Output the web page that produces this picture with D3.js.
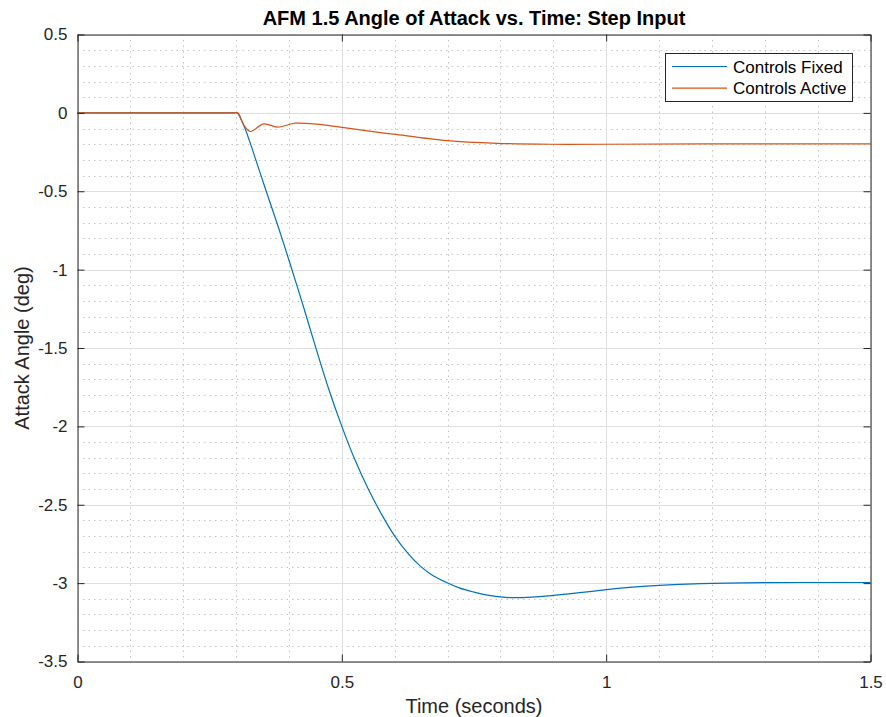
<!DOCTYPE html>
<html><head><meta charset="utf-8">
<script src="https://cdn.jsdelivr.net/npm/d3@7"></script>
<style>body{margin:0;background:#fff}svg{display:block;font-family:"Liberation Sans",Arial,Helvetica,sans-serif}</style>
</head><body><svg id="c" width="886" height="717"></svg>
<script>
const xTicks = [0, 0.5, 1, 1.5];
const xTickLabels = ["0", "0.5", "1", "1.5"];
const yTicks = [0.5, 0, -0.5, -1, -1.5, -2, -2.5, -3, -3.5];
const yTickLabels = ["0.5", "0", "-0.5", "-1", "-1.5", "-2", "-2.5", "-3", "-3.5"];
const seriesNames = ["Controls Fixed", "Controls Active"];
const seriesColors = ["#0072BD", "#D95319"];

const fixedTime  = [0, 0.1, 0.2, 0.28, 0.295, 0.302, 0.31, 0.318, 0.33, 0.354, 0.38, 0.40, 0.425, 0.45, 0.475, 0.5, 0.525, 0.55, 0.575, 0.6, 0.625, 0.649, 0.672, 0.696, 0.722, 0.75, 0.775, 0.80, 0.825, 0.86, 0.9, 0.95, 1.0, 1.05, 1.1, 1.18, 1.3, 1.4, 1.5];
const fixedValue = [0, 0, 0, 0, 0, 0, -0.045, -0.109, -0.225, -0.47, -0.73, -0.94, -1.21, -1.49, -1.76, -2.0, -2.215, -2.40, -2.56, -2.70, -2.81, -2.893, -2.951, -2.993, -3.030, -3.057, -3.076, -3.088, -3.093, -3.089, -3.078, -3.061, -3.042, -3.026, -3.014, -3.003, -2.997, -2.996, -2.996];

const activeTime  = [0, 0.1, 0.2, 0.28, 0.296, 0.303, 0.315, 0.327, 0.352, 0.378, 0.412, 0.453, 0.497, 0.573, 0.598, 0.699, 0.794, 0.895, 0.996, 1.19, 1.5];
const activeValue = [0, 0, 0, 0, 0, 0, -0.08, -0.119, -0.070, -0.091, -0.066, -0.072, -0.091, -0.126, -0.136, -0.177, -0.194, -0.200, -0.200, -0.198, -0.198];

(function () {
const svg = d3.select("#c");
const L = 77.5, R = 870.5, T = 34.5, B = 661.5;
const x = d3.scaleLinear().domain([0, 1.5]).range([L, R]);
const y = d3.scaleLinear().domain([-3.5, 0.5]).range([B, T]);

const xMinor = d3.range(0, 1.5001, 0.1).filter(v => !xTicks.some(t => Math.abs(t - v) < 1e-6));
const yMinor = d3.range(-3.5, 0.5001, 0.1).filter(v => !yTicks.some(t => Math.abs(t - v) < 1e-6));
const g = svg.append("g");
g.selectAll(".mx").data(xMinor).enter().append("line")
  .attr("x1", d => Math.round(x(d)) + 0.5).attr("x2", d => Math.round(x(d)) + 0.5)
  .attr("y1", T).attr("y2", B).attr("stroke", "#c4c4c4").attr("stroke-dasharray", "1.5,4");
g.selectAll(".my").data(yMinor).enter().append("line")
  .attr("y1", d => Math.round(y(d)) + 0.5).attr("y2", d => Math.round(y(d)) + 0.5)
  .attr("x1", L).attr("x2", R).attr("stroke", "#c4c4c4").attr("stroke-dasharray", "1.5,4");
g.selectAll(".gx").data(xTicks).enter().append("line")
  .attr("x1", d => Math.round(x(d)) + 0.5).attr("x2", d => Math.round(x(d)) + 0.5)
  .attr("y1", T).attr("y2", B).attr("stroke", "#dfdfdf");
g.selectAll(".gy").data(yTicks).enter().append("line")
  .attr("y1", d => Math.round(y(d)) + 0.5).attr("y2", d => Math.round(y(d)) + 0.5)
  .attr("x1", L).attr("x2", R).attr("stroke", "#dfdfdf");

const line = d3.line().x(d => x(d[0])).y(d => y(d[1])).curve(d3.curveCatmullRom.alpha(0.5));
const fixedData = fixedTime.map((t, i) => [t, fixedValue[i]]);
const activeData = activeTime.map((t, i) => [t, activeValue[i]]);
svg.append("path").attr("d", line(fixedData)).attr("fill", "none").attr("stroke", seriesColors[0]).attr("stroke-width", 1.2);
svg.append("path").attr("d", line(activeData)).attr("fill", "none").attr("stroke", seriesColors[1]).attr("stroke-width", 1.2);

const ax = svg.append("g");
const axB = d3.axisBottom(x).tickValues(xTicks).tickFormat((d, i) => xTickLabels[i]).tickSizeInner(-7).tickSizeOuter(0).tickPadding(14);
const axL = d3.axisLeft(y).tickValues(yTicks).tickFormat((d, i) => yTickLabels[i]).tickSizeInner(-7).tickSizeOuter(0).tickPadding(10);
const axT = d3.axisTop(x).tickValues(xTicks).tickFormat("").tickSizeInner(-7).tickSizeOuter(0);
const axR = d3.axisRight(y).tickValues(yTicks).tickFormat("").tickSizeInner(-7).tickSizeOuter(0);
[[axB, `translate(0,${B})`], [axL, `translate(${L},0)`], [axT, `translate(0,${T})`], [axR, `translate(${R},0)`]].forEach(([a, tr]) => {
  const gg = ax.append("g").attr("transform", tr).call(a);
  gg.selectAll("path").attr("stroke", "#262626");
  gg.selectAll("line").attr("stroke", "#262626");
  gg.selectAll("text").attr("fill", "#262626").style("font-size", "17px").style("font-family", '"Liberation Sans",Arial,sans-serif');
});

svg.append("text").attr("x", (L + R) / 2).attr("y", 25).attr("text-anchor", "middle")
  .style("font-size", "20px").style("font-weight", "bold").attr("fill", "#000")
  .text("AFM 1.5 Angle of Attack vs. Time: Step Input");
svg.append("text").attr("x", (L + R) / 2).attr("y", 713).attr("text-anchor", "middle")
  .style("font-size", "20px").attr("fill", "#262626").text("Time (seconds)");
svg.append("text").attr("transform", `translate(29,${(T + B) / 2}) rotate(-90)`).attr("text-anchor", "middle")
  .style("font-size", "20px").attr("fill", "#262626").text("Attack Angle (deg)");

const lg = svg.append("g");
lg.append("rect").attr("x", 665.5).attr("y", 53.5).attr("width", 187).attr("height", 48)
  .attr("fill", "#fff").attr("stroke", "#262626").attr("stroke-width", 1);
seriesNames.forEach((n, i) => {
  const yy = 66.5 + i * 21.7;
  lg.append("line").attr("x1", 672).attr("x2", 727).attr("y1", yy).attr("y2", yy)
    .attr("stroke", seriesColors[i]).attr("stroke-width", 1.2);
  lg.append("text").attr("x", 733).attr("y", yy + 6).style("font-size", "17px").attr("fill", "#000").text(n);
});
})();
</script></body></html>
